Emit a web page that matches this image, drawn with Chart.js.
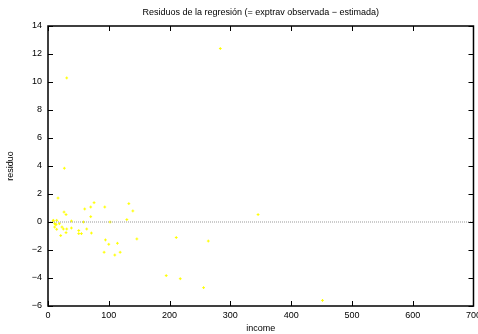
<!DOCTYPE html>
<html>
<head>
<meta charset="utf-8">
<script src="https://cdn.jsdelivr.net/npm/chart.js@4"></script>
<style>
  html, body { margin: 0; padding: 0; background: #fff; overflow: hidden; }
  #wrap { width: 485px; height: 334px; }
</style>
</head>
<body>
<div id="wrap"><canvas id="resChart"></canvas></div>
<script>
// income vs residual (observed - fitted exptrav)
const income = [16.5, 26.4, 29.7, 8.8, 14.3, 11, 13.2, 11, 14.3, 18.7, 20.9, 23, 25.3, 30.8, 29.7,
  38.5, 38.5, 50.6, 50.6, 55, 58.3, 60.4, 63.7, 70.3, 70.3, 71.4, 75.8, 93.4, 94.5, 100, 92.3,
  102.2, 109.9, 114.2, 118.7, 133, 139.6, 129.7, 146.2, 194.5, 211, 217.6, 256, 263.7, 345.6,
  451.6, 30.8, 26.9, 283.5, 8.2, 12.7];
const residuo = [1.71, 0.71, 0.53, 0.12, 0.12, -0.12, -0.19, -0.36, -0.52, -0.12, -0.97, -0.36, -0.5, -0.5, -0.76,
  0.07, -0.43, -0.61, -0.83, -0.83, 0, 0.93, -0.5, 1.07, 0.38, -0.79, 1.38, 1.07, -1.28, -1.59, -2.16,
  0, -2.36, -1.52, -2.16, 1.31, 0.79, 0.17, -1.21, -3.83, -1.11, -4.05, -4.69, -1.36, 0.53,
  -5.6, 10.29, 3.84, 12.39, 0.07, -0.16];
const xRange = [0, 700];
const yRange = [-6, 14];
const titleText = 'Residuos de la regresión (= exptrav observada \u2212 estimada)';

const points = income.map((x, i) => ({ x: x, y: residuo[i] }));
const FONT = 'Liberation Sans, Arial, Helvetica, sans-serif';

// frame, mirrored inward ticks and title, gnuplot style
const framePlugin = {
  id: 'frame',
  afterDraw(chart) {
    const { ctx, chartArea: a, scales } = chart;
    const xs = scales.x, ys = scales.y;
    ctx.save();
    ctx.strokeStyle = '#000';
    ctx.lineWidth = 1;
    ctx.beginPath();
    xs.ticks.forEach(t => {
      const px = Math.round(xs.getPixelForValue(t.value)) + 0.5;
      ctx.moveTo(px, a.bottom); ctx.lineTo(px, a.bottom - 5);
      ctx.moveTo(px, a.top); ctx.lineTo(px, a.top + 5);
    });
    ys.ticks.forEach(t => {
      const py = Math.round(ys.getPixelForValue(t.value)) + 0.5;
      ctx.moveTo(a.left, py); ctx.lineTo(a.left + 5, py);
      ctx.moveTo(a.right, py); ctx.lineTo(a.right - 5, py);
    });
    ctx.stroke();
    ctx.lineWidth = 1.5;
    ctx.strokeRect(a.left, a.top, a.right - a.left, a.bottom - a.top);
    ctx.fillStyle = '#000';
    ctx.font = '9px ' + FONT;
    ctx.textAlign = 'center';
    ctx.textBaseline = 'middle';
    ctx.fillText(titleText, (a.left + a.right) / 2, 13);
    ctx.restore();
  }
};

new Chart(document.getElementById('resChart'), {
  type: 'scatter',
  data: {
    datasets: [
      {
        type: 'line',
        data: [{ x: xRange[0], y: 0 }, { x: xRange[1], y: 0 }],
        borderColor: '#999',
        borderWidth: 1,
        borderDash: [1, 1],
        pointRadius: 0,
        fill: false
      },
      {
        data: points,
        pointStyle: 'cross',
        pointRadius: 1.4,
        borderWidth: 1,
        borderColor: '#ffff00',
        backgroundColor: '#ffff00'
      }
    ]
  },
  options: {
    responsive: true,
    maintainAspectRatio: false,
    animation: false,
    layout: { autoPadding: false, padding: { left: 5, right: 5, top: 26, bottom: 0 } },
    plugins: { legend: { display: false }, tooltip: { enabled: false }, title: { display: false } },
    scales: {
      x: {
        type: 'linear',
        min: xRange[0], max: xRange[1],
        grid: { display: false, drawTicks: false },
        border: { display: false },
        ticks: { stepSize: 100, color: '#000', padding: 4, maxRotation: 0, font: { size: 9, family: FONT } },
        title: { display: true, text: 'income', color: '#000', padding: 0, font: { size: 9, family: FONT } },
        afterFit(s) { s.height = 28; }
      },
      y: {
        min: yRange[0], max: yRange[1],
        grid: { display: false, drawTicks: false },
        border: { display: false },
        ticks: {
          stepSize: 2, color: '#000', padding: 6, font: { size: 9, family: FONT },
          callback: v => (v < 0 ? '\u2212' + Math.abs(v) : String(v))
        },
        title: { display: true, text: 'residuo', color: '#000', padding: 0, font: { size: 9, family: FONT } },
        afterFit(s) { s.width = 43; }
      }
    }
  },
  plugins: [framePlugin]
});
</script>
</body>
</html>
